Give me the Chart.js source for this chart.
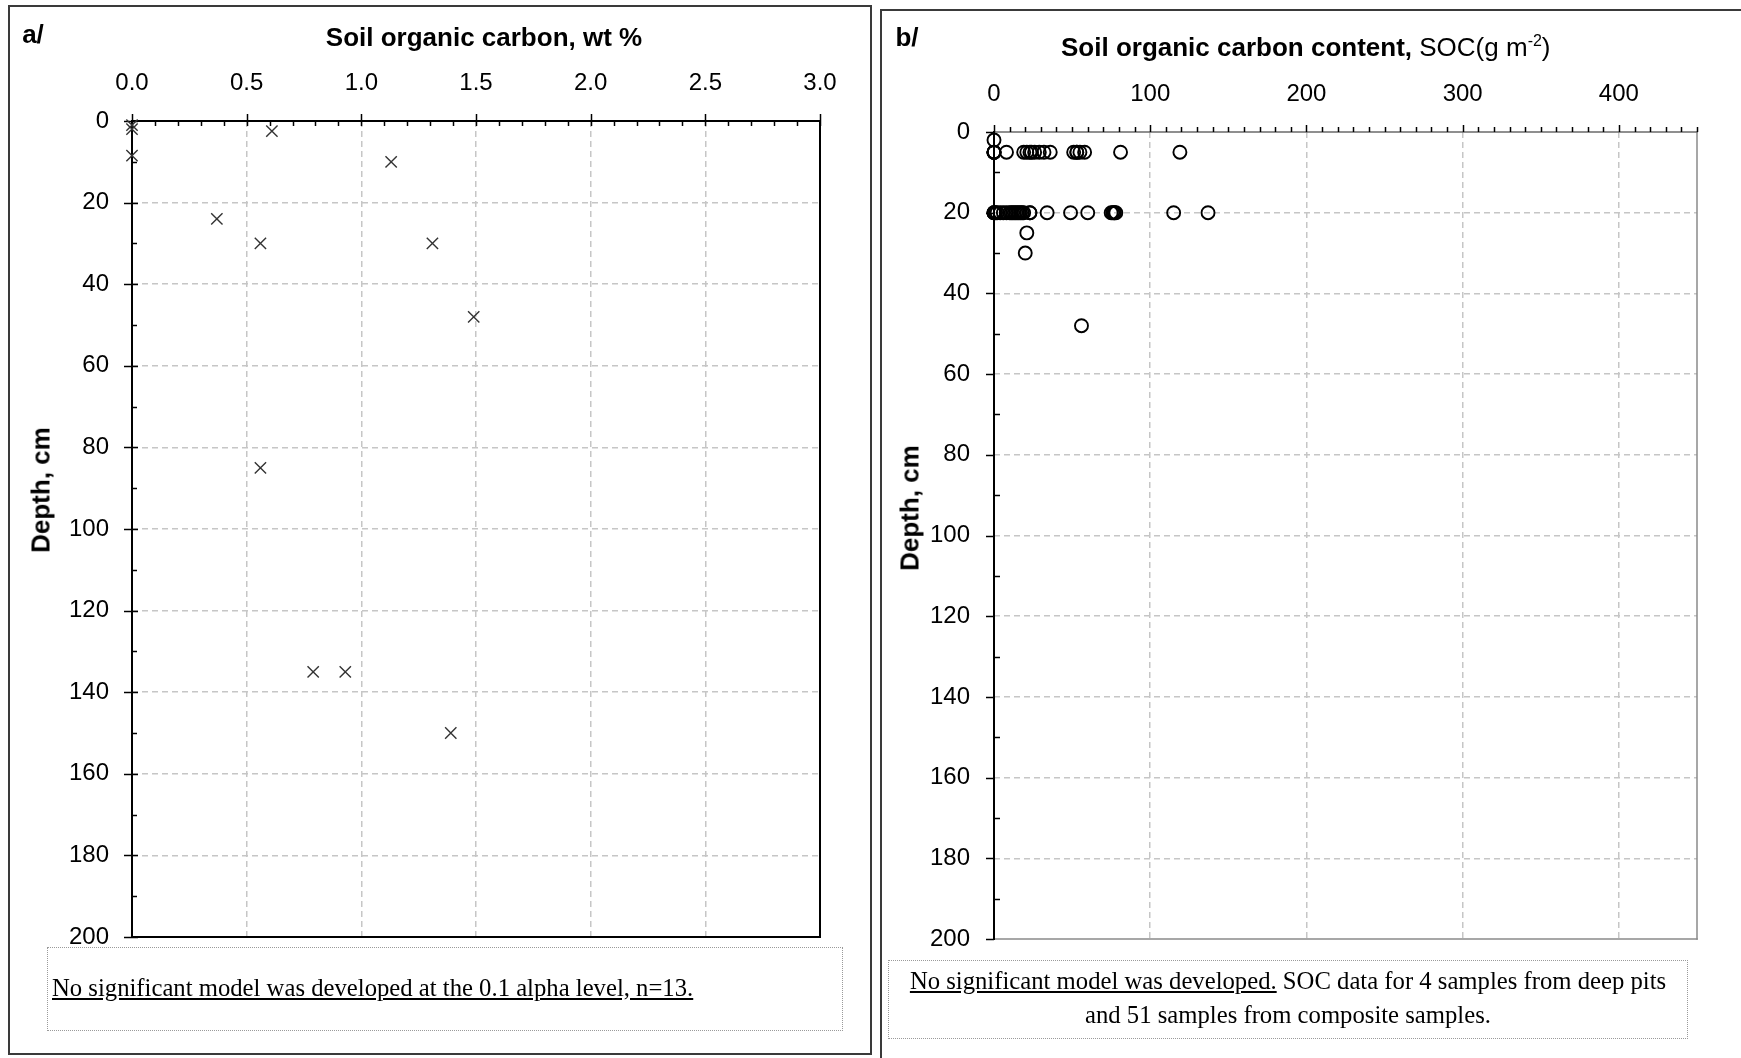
<!DOCTYPE html>
<html>
<head>
<meta charset="utf-8">
<script src="https://cdn.jsdelivr.net/npm/chart.js@4.4.1/dist/chart.umd.min.js"></script>
<style>
  body { margin: 0; width: 1741px; height: 1058px; background: #fff; position: relative; overflow: hidden;
         font-family: "Liberation Sans", Arial, sans-serif; color: #000; }
  .frame { position: absolute; border: 2px solid #3a3a3a; box-sizing: border-box; }
  canvas { position: absolute; top: 0; }
  .lbl { position: absolute; font-weight: bold; font-size: 26px; white-space: nowrap; transform: translate(-50%, -50%); }
  .rot { transform: translate(-50%, -50%) rotate(-90deg); }
  .note { position: absolute; border: 1px dotted #9a9a9a; box-sizing: border-box;
          font-family: "Liberation Serif", "Times New Roman", serif; font-size: 24.7px; white-space: nowrap; }
</style>
</head>
<body>
<div class="frame" style="left:8px;top:5px;width:864px;height:1050px"></div>
<div class="frame" style="left:880px;top:9px;width:880px;height:1070px"></div>

<canvas id="carbonPct" width="870" height="1058" style="left:0"></canvas>
<canvas id="carbonContent" width="861" height="1058" style="left:880px"></canvas>

<div class="lbl" style="left:33px;top:34px">a/</div>
<div class="lbl" style="left:484px;top:37px">Soil organic carbon, wt %</div>
<div class="lbl rot" style="left:41px;top:490px">Depth, cm</div>
<div class="note" style="left:47px;top:947px;width:796px;height:84px">
  <span style="position:absolute;left:4px;top:26px;text-decoration:underline">No significant model was developed at the 0.1 alpha level, n=13.</span>
</div>

<div class="lbl" style="left:907px;top:37px">b/</div>
<div class="lbl" style="left:1061px;top:47px;transform:translateY(-50%)">Soil organic carbon content,<span style="font-weight:normal"> SOC(g m<sup style="font-size:16px">-2</sup>)</span></div>
<div class="lbl rot" style="left:910px;top:508px">Depth, cm</div>
<div class="note" style="left:888px;top:960px;width:800px;height:79px;text-align:center;line-height:34px;padding-top:3px">
  <span style="text-decoration:underline">No significant model was developed.</span> SOC data for 4 samples from deep pits<br>and 51 samples from composite samples.
</div>

<script>
// panel a: soil organic carbon (wt %) against depth
const socPct = [0.0, 0.0, 0.0, 0.61, 1.13, 0.37, 0.56, 1.31, 1.49, 0.56, 0.79, 0.93, 1.39];
const depthPct = [1, 2, 8.5, 2.5, 10, 24, 30, 30, 48, 85, 135, 135, 150];
const pctTicks = [0, 0.5, 1.0, 1.5, 2.0, 2.5, 3.0];

// panel b: soil organic carbon content (g m-2) against depth
const socContent = [
  0,
  0, 0, 0, 0, 0, 8, 19, 21, 23, 24, 26, 29, 32, 36, 51, 53, 53, 55, 58, 81, 119,
  0, 0, 0, 1, 2, 4, 6, 8, 10, 11, 12, 13, 14, 15, 16, 17, 18, 19, 23, 23, 34, 49, 60,
  75, 76, 77, 77, 78, 115, 137,
  21, 20, 56
];
const depthContent = [
  2,
  5, 5, 5, 5, 5, 5, 5, 5, 5, 5, 5, 5, 5, 5, 5, 5, 5, 5, 5, 5, 5,
  20, 20, 20, 20, 20, 20, 20, 20, 20, 20, 20, 20, 20, 20, 20, 20, 20, 20, 20, 20, 20, 20, 20,
  20, 20, 20, 20, 20, 20, 20,
  25, 30, 48
];
const contentTicks = [0, 100, 200, 300, 400];
const depthTicks = [0, 20, 40, 60, 80, 100, 120, 140, 160, 180, 200];

const tickFont = { family: "Liberation Sans", size: 24 };

// axis lines plus major/minor tick marks drawn on the scales
const axisFrame = {
  id: "axisFrame",
  beforeDatasetsDraw(chart, args, o) {
    const { ctx, chartArea: a, scales: { x, y } } = chart;
    const seg = (x1, y1, x2, y2) => { ctx.beginPath(); ctx.moveTo(x1, y1); ctx.lineTo(x2, y2); ctx.stroke(); };
    const isMajor = (v, step) => Math.abs(v / step - Math.round(v / step)) < 1e-6;
    ctx.save();
    ctx.lineCap = "square";

    ctx.strokeStyle = o.edgeColor;
    ctx.lineWidth = o.edgeWidth;
    seg(a.right, a.top, a.right, a.bottom);
    seg(a.left, a.bottom, a.right, a.bottom);

    ctx.strokeStyle = o.topColor;
    ctx.lineWidth = o.topWidth;
    seg(a.left, a.top, a.right, a.top);

    ctx.strokeStyle = "#000";
    ctx.lineWidth = 2;
    seg(a.left, a.top, a.left, a.bottom);

    ctx.lineWidth = 1.5;
    ctx.lineCap = "butt";
    for (let i = 0; x.min + i * o.xMinor <= x.max + 1e-9; i++) {
      const v = x.min + i * o.xMinor;
      const px = Math.round(x.getPixelForValue(v)) + 0.5;
      const [out, inn] = isMajor(v, o.xMajor) ? o.xMajTick : o.xMinTick;
      seg(px, a.top - out, px, a.top + inn);
    }
    for (let i = 0; y.min + i * o.yMinor <= y.max + 1e-9; i++) {
      const v = y.min + i * o.yMinor;
      const py = Math.round(y.getPixelForValue(v)) + 0.5;
      const [out, inn] = isMajor(v, o.yMajor) ? o.yMajTick : o.yMinTick;
      seg(a.left - out, py, a.left + inn, py);
    }
    ctx.restore();
  }
};

function depthScale(width, pad) {
  return {
    type: "linear",
    position: "left",
    reverse: true,
    min: 0,
    max: 200,
    afterBuildTicks: s => { s.ticks = depthTicks.map(v => ({ value: v })); },
    afterFit: s => { s.width = width; },
    ticks: { font: tickFont, color: "#000", padding: pad },
    grid: {
      drawTicks: false,
      lineWidth: 1.5,
      color: c => (c.tick && (c.tick.value === 0 || c.tick.value === 200)) ? "rgba(0,0,0,0)" : "#c6c6c6"
    },
    border: { display: false, dash: [6, 4] }
  };
}

function valueScale(max, ticks, height, fmt) {
  return {
    type: "linear",
    position: "top",
    min: 0,
    max: max,
    afterBuildTicks: s => { s.ticks = ticks.map(v => ({ value: v })); },
    afterFit: s => { s.height = height; },
    ticks: { font: tickFont, color: "#000", padding: 23, maxRotation: 0, autoSkip: false, callback: fmt },
    grid: {
      drawTicks: false,
      lineWidth: 1.5,
      color: c => (c.tick && (c.tick.value === 0 || c.tick.value === max)) ? "rgba(0,0,0,0)" : "#c6c6c6"
    },
    border: { display: false, dash: [6, 4] }
  };
}

new Chart(document.getElementById("carbonPct"), {
  type: "scatter",
  data: {
    datasets: [{
      data: socPct.map((v, i) => ({ x: v, y: depthPct[i] })),
      pointStyle: "crossRot",
      radius: 8,
      borderColor: "#333",
      borderWidth: 1.4,
      clip: false
    }]
  },
  options: {
    responsive: false,
    animation: false,
    layout: { padding: { left: 0, top: 0, right: 50, bottom: 121 } },
    plugins: {
      legend: { display: false },
      tooltip: { enabled: false },
      axisFrame: {
        edgeColor: "#000", edgeWidth: 2, topColor: "#000", topWidth: 2,
        xMajor: 0.5, xMinor: 0.1, yMajor: 20, yMinor: 10,
        xMajTick: [7, 5], xMinTick: [0, 5], yMajTick: [8, 6], yMinTick: [0, 5]
      }
    },
    scales: {
      x: valueScale(3, pctTicks, 121, v => v.toFixed(1)),
      y: depthScale(132, 23)
    }
  },
  plugins: [axisFrame]
});

new Chart(document.getElementById("carbonContent"), {
  type: "scatter",
  data: {
    datasets: [{
      data: socContent.map((v, i) => ({ x: v, y: depthContent[i] })),
      pointStyle: "circle",
      radius: 6.5,
      borderColor: "#000",
      backgroundColor: "rgba(0,0,0,0)",
      borderWidth: 1.9,
      clip: false
    }]
  },
  options: {
    responsive: false,
    animation: false,
    layout: { padding: { left: 0, top: 0, right: 44, bottom: 119 } },
    plugins: {
      legend: { display: false },
      tooltip: { enabled: false },
      axisFrame: {
        edgeColor: "#8a8a8a", edgeWidth: 1.5, topColor: "#6a6a6a", topWidth: 1.5,
        xMajor: 100, xMinor: 10, yMajor: 20, yMinor: 10,
        xMajTick: [7, 0], xMinTick: [5, 0], yMajTick: [8, 0], yMinTick: [0, 6]
      }
    },
    scales: {
      x: valueScale(450, contentTicks, 132, v => String(v)),
      y: depthScale(114, 24)
    }
  },
  plugins: [axisFrame]
});
</script>
</body>
</html>
